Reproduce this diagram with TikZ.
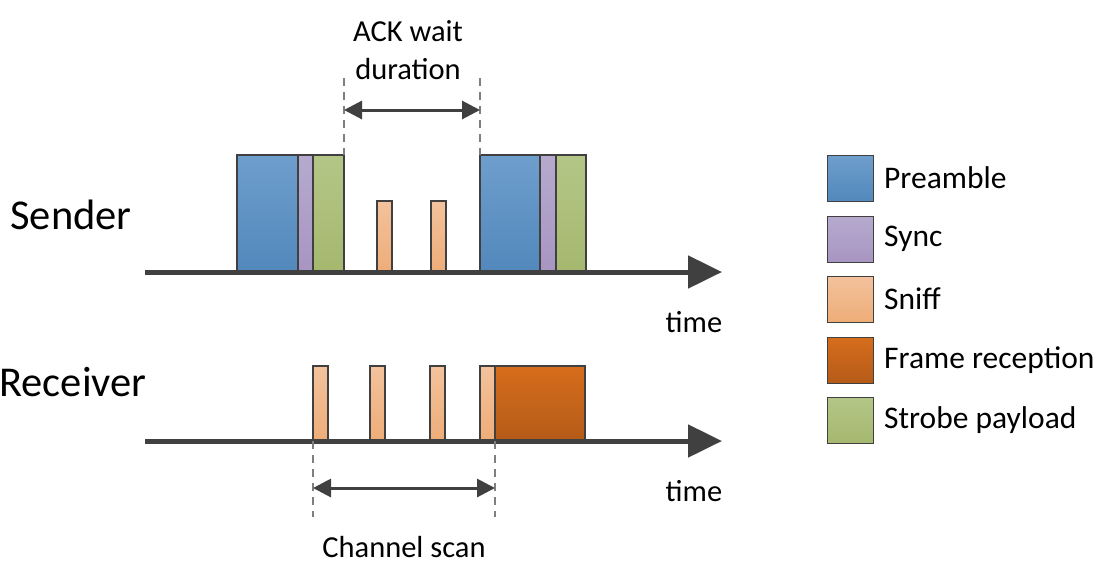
\documentclass[tikz,border=0pt]{standalone}
\usepackage{fontspec}
\setmainfont{Carlito}
\usetikzlibrary{arrows.meta}
\definecolor{axisc}{HTML}{404040}
\definecolor{dashc}{HTML}{7F7F7F}
\definecolor{preT}{HTML}{6E9ECC}\definecolor{preB}{HTML}{5288BC}
\definecolor{synT}{HTML}{B5AACE}\definecolor{synB}{HTML}{A895C2}
\definecolor{snfT}{HTML}{F3C29C}\definecolor{snfB}{HTML}{EEAD78}
\definecolor{frmT}{HTML}{D66D1C}\definecolor{frmB}{HTML}{B45B18}
\definecolor{strT}{HTML}{B4C687}\definecolor{strB}{HTML}{A5B86E}
\begin{document}
\begin{tikzpicture}[x=1pt,y=-1pt,
  blk/.style={draw=axisc,line width=1.3pt,inner sep=0pt,outer sep=0pt,anchor=south west},
  pre/.style={blk,top color=preT,bottom color=preB},
  syn/.style={blk,top color=synT,bottom color=synB},
  snf/.style={blk,top color=snfT,bottom color=snfB},
  frm/.style={blk,top color=frmT,bottom color=frmB},
  strb/.style={blk,top color=strT,bottom color=strB},
  axisline/.style={line width=5pt,draw=axisc,-{Triangle[length=34pt,width=32pt]}},
  guide/.style={draw=dashc,line width=1.2pt,dash pattern=on 8pt off 6pt},
  span/.style={line width=3pt,draw=axisc,{Triangle[length=18pt,width=18pt]}-{Triangle[length=18pt,width=18pt]}},
  lbl/.style={font=\fontsize{30.5}{38}\selectfont,inner sep=0pt},
  legt/.style={font=\fontsize{31.5}{38}\selectfont,inner sep=0pt,anchor=west},
  big/.style={font=\fontsize{42.5}{48}\selectfont,inner sep=0pt},
  leg/.style={draw=axisc,line width=1.3pt,inner sep=0pt,minimum width=46pt,minimum height=46pt,anchor=north west}
]
\useasboundingbox (0,0) rectangle (1118,574);
% axes
\coordinate (s0) at (145,272); \coordinate (s1) at (722,272);
\coordinate (r0) at (145,441); \coordinate (r1) at (722,441);
% sender blocks
\node[pre,minimum width=61pt,minimum height=117pt] (p1) at (237,272) {};
\node[syn,minimum width=15pt,minimum height=117pt] (y1) at (298,272) {};
\node[strb,minimum width=31pt,minimum height=117pt] (b1) at (313,272) {};
\node[snf,minimum width=15pt,minimum height=71pt] (sn1) at (377,272) {};
\node[snf,minimum width=15pt,minimum height=71pt] (sn2) at (431,272) {};
\node[pre,minimum width=60pt,minimum height=117pt] (p2) at (480,272) {};
\node[syn,minimum width=16pt,minimum height=117pt] (y2) at (540,272) {};
\node[strb,minimum width=30pt,minimum height=117pt] (b2) at (556,272) {};
% receiver blocks
\node[snf,minimum width=15pt,minimum height=75pt] (rs1) at (313,441) {};
\node[snf,minimum width=15pt,minimum height=75pt] (rs2) at (370,441) {};
\node[snf,minimum width=15pt,minimum height=75pt] (rs3) at (430,441) {};
\node[snf,minimum width=15pt,minimum height=75pt] (rs4) at (480,441) {};
\node[frm,minimum width=90pt,minimum height=75pt] (fr) at (495,441) {};
% axes drawn over
\draw[axisline] (s0) -- (s1);
\draw[axisline] (r0) -- (r1);
% ack guides
\coordinate (ga1) at (344,78); \coordinate (ga2) at (480,78);
\draw[guide] (ga1) -- (b1.north east);
\draw[guide] (ga2) -- (p2.north west);
\coordinate (aa) at (344,110); \coordinate (ab) at (480,110);
\draw[span] (aa) -- (ab);
\node[lbl,align=center] (ack) at (408,50) {ACK wait\\duration};
% channel scan guides
\coordinate (gc1) at (313,517); \coordinate (gc2) at (495,517);
\draw[guide] (rs1.south west) -- (gc1);
\draw[guide] (fr.south west) -- (gc2);
\coordinate (ca) at (313,488); \coordinate (cb) at (495,488);
\draw[span] (ca) -- (cb);
\node[lbl] (cs) at (404,547) {Channel scan};
% labels
\node[big] (snd) at (71,215) {Sender};
\node[big] (rcv) at (73,382) {Receiver};
\node[lbl] (t1) at (694,322) {time};
\node[lbl] (t2) at (694,491) {time};
% legend
\node[leg,top color=preT,bottom color=preB] (l1) at (827,155) {};
\node[leg,top color=synT,bottom color=synB] (l2) at (827,216) {};
\node[leg,top color=snfT,bottom color=snfB] (l3) at (827,276) {};
\node[leg,top color=frmT,bottom color=frmB] (l4) at (827,337) {};
\node[leg,top color=strT,bottom color=strB] (l5) at (827,397) {};
\node[legt] (lt1) at (884,178) {Preamble};
\node[legt] (lt2) at (884,239) {Sync};
\node[legt] (lt3) at (884,299) {Sniff};
\node[legt] (lt4) at (884,360) {Frame reception};
\node[legt] (lt5) at (884,420) {Strobe payload};
\end{tikzpicture}
\end{document}
